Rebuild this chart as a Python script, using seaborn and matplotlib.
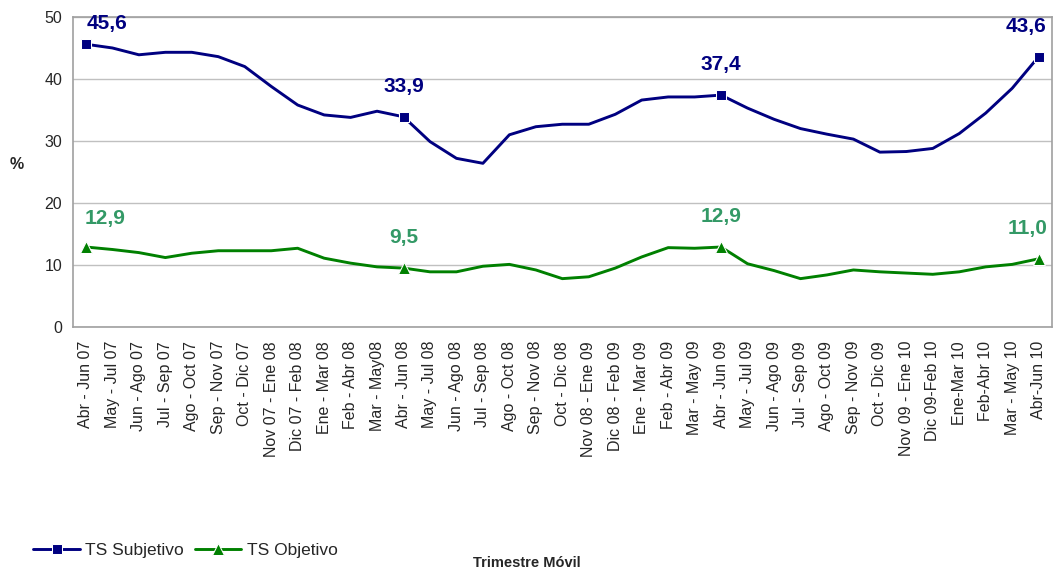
import numpy as np
import pandas as pd
import matplotlib
matplotlib.use("Agg")
import matplotlib.pyplot as plt
import seaborn as sns

# trimestres moviles
periodos = ["Abr - Jun 07", "May - Jul 07", "Jun - Ago 07", "Jul - Sep 07", "Ago - Oct 07",
            "Sep - Nov 07", "Oct - Dic 07", "Nov 07 - Ene 08", "Dic 07 - Feb 08", "Ene - Mar 08",
            "Feb - Abr 08", "Mar - May08", "Abr - Jun 08", "May - Jul 08", "Jun - Ago 08",
            "Jul - Sep 08", "Ago - Oct 08", "Sep - Nov 08", "Oct - Dic 08", "Nov 08 - Ene 09",
            "Dic 08 - Feb 09", "Ene - Mar 09", "Feb - Abr 09", "Mar - May 09", "Abr - Jun 09",
            "May - Jul 09", "Jun - Ago 09", "Jul - Sep 09", "Ago - Oct 09", "Sep - Nov 09",
            "Oct - Dic 09", "Nov 09 - Ene 10", "Dic 09-Feb 10", "Ene-Mar 10", "Feb-Abr 10",
            "Mar - May 10", "Abr-Jun 10"]

ts_subjetivo = [45.6, 45.0, 43.9, 44.3, 44.3, 43.6, 42.0, 38.8, 35.8, 34.2,
                33.8, 34.8, 33.9, 29.9, 27.2, 26.4, 31.0, 32.3, 32.7, 32.7,
                34.3, 36.6, 37.1, 37.1, 37.4, 35.3, 33.5, 32.0, 31.1, 30.3,
                28.2, 28.3, 28.8, 31.2, 34.5, 38.5, 43.6]

ts_objetivo = [12.9, 12.5, 12.0, 11.2, 11.9, 12.3, 12.3, 12.3, 12.7, 11.1,
               10.3, 9.7, 9.5, 8.9, 8.9, 9.8, 10.1, 9.2, 7.8, 8.1,
               9.5, 11.3, 12.8, 12.7, 12.9, 10.2, 9.1, 7.8, 8.4, 9.2,
               8.9, 8.7, 8.5, 8.9, 9.7, 10.1, 11.0]

puntos = [0, 12, 24, 36]  # puntos con marcador y etiqueta

df = pd.DataFrame({"x": np.arange(len(periodos)),
                   "subj": ts_subjetivo,
                   "obj": ts_objetivo})

sns.set_style("white")
plt.rcParams['font.family'] = ['Liberation Sans', 'DejaVu Sans']

fig = plt.figure(figsize=(10.54, 5.73), dpi=100)
ax = fig.add_axes([0.069, 0.4293, 0.929, 0.5411])

azul = "#000080"
verde = "#008000"

sns.lineplot(data=df, x="x", y="subj", ax=ax, color=azul, lw=2.1, marker="s",
             markersize=6.5, markevery=puntos, label="TS Subjetivo")
sns.lineplot(data=df, x="x", y="obj", ax=ax, color=verde, lw=2.1, marker="^",
             markersize=8, markevery=puntos, label="TS Objetivo")

# etiquetas de datos
off_s = [(15, 8), (0, 15), (0, 15), (-9, 15)]
off_o = [(14, 14), (0, 15), (0, 15), (-8, 15)]
for k, i in enumerate(puntos):
    ax.annotate(f"{ts_subjetivo[i]:.1f}".replace(".", ","), (i, ts_subjetivo[i]),
                xytext=off_s[k], textcoords="offset points", ha="center", va="bottom",
                fontsize=15, fontweight="bold", color=azul)
    ax.annotate(f"{ts_objetivo[i]:.1f}".replace(".", ","), (i, ts_objetivo[i]),
                xytext=off_o[k], textcoords="offset points", ha="center", va="bottom",
                fontsize=15, fontweight="bold", color="#339966")

ax.set_xlim(-0.5, len(periodos) - 0.5)
ax.set_ylim(0, 50)
ax.set_yticks(range(0, 51, 10))
ax.set_xticks(range(len(periodos)))
ax.set_xticklabels(periodos, rotation=90, fontsize=11.5)
ax.set_xticks(np.arange(-0.5, len(periodos), 1), minor=True)
ax.tick_params(axis="x", which="major", length=0, pad=10)
ax.tick_params(axis="x", which="minor", length=6, color="#a0a0a0", direction="out")
ax.tick_params(axis="y", length=4, color="#a0a0a0", labelsize=11.5, direction="out")
ax.yaxis.grid(True, color="#c0c0c0", lw=1)
for s in ax.spines.values():
    s.set_color("#a0a0a0")
    s.set_linewidth(1.2)

ax.set_xlabel("")
ax.set_ylabel("%", rotation=0, fontsize=11.5, fontweight="bold", labelpad=20)

ax.get_legend().remove()
h, l = ax.get_legend_handles_labels()
fig.legend(h, l, loc="center left", bbox_to_anchor=(0.025, 0.04), ncol=2,
           frameon=False, fontsize=12.5, handlelength=2.7, handletextpad=0.3,
           columnspacing=0.6, borderaxespad=0)

fig.text(0.5, 0.017, "Trimestre Móvil", ha="center", va="center",
         fontsize=10.5, fontweight="bold")

fig.savefig("out.png", dpi=100)
